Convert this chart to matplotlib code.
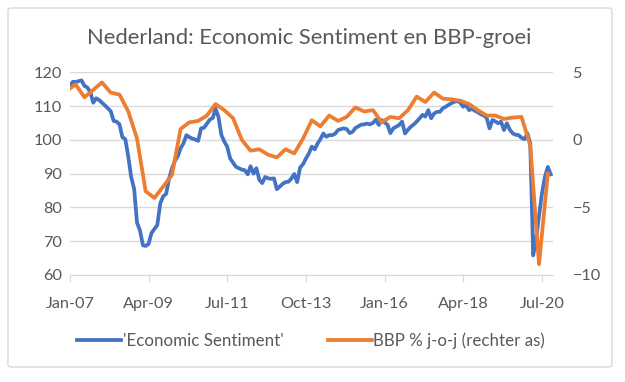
import matplotlib
matplotlib.use('Agg')
import matplotlib.pyplot as plt
import matplotlib.dates as mdates
import pandas as pd
from matplotlib.patches import FancyBboxPatch

plt.rcParams['font.family'] = ['Lato', 'DejaVu Sans']

title = 'Nederland: Economic Sentiment en BBP-groei'
label_sentiment = "'Economic Sentiment'"
label_gdp = 'BBP % j-o-j (rechter as)'

# Economic sentiment, maandelijks vanaf jan-2007
sentiment = [
    116.2, 117.2, 117.1, 117.4, 117.6, 116.0, 115.5, 114.2, 111.0, 112.3, 111.8, 111.0,
    110.2, 109.3, 108.5, 105.6, 105.4, 104.6, 100.8, 100.2, 95.0, 89.0, 85.5, 75.5,
    73.2, 68.8, 68.6, 69.2, 72.4, 73.6, 74.8, 81.2, 83.3, 84.0, 88.5, 91.5,
    93.8, 95.2, 97.5, 99.0, 101.4, 100.8, 100.4, 100.1, 99.7, 103.4, 103.6, 104.8,
    106.0, 106.5, 109.3, 106.8, 101.5, 99.5, 98.0, 94.5, 93.2, 92.0, 91.6, 91.2,
    91.0, 89.8, 92.2, 90.0, 91.6, 88.2, 87.2, 89.0, 88.6, 88.5, 88.6, 85.4,
    86.2, 87.0, 87.5, 87.6, 88.5, 89.9, 87.5, 91.8, 92.8, 94.5, 96.0, 98.0,
    97.2, 99.0, 100.2, 101.9, 100.9, 101.4, 101.4, 101.8, 102.9, 103.2, 103.4, 103.2,
    102.0, 102.4, 103.5, 104.0, 104.5, 104.6, 104.8, 104.6, 105.0, 106.0, 104.4, 105.9,
    105.2, 104.4, 102.0, 103.4, 103.9, 104.4, 105.4, 101.9, 103.0, 103.9, 104.6, 105.4,
    106.4, 107.4, 106.9, 108.8, 106.4, 107.8, 108.3, 108.3, 109.4, 109.8, 110.4, 110.9,
    111.3, 111.5, 111.0, 109.8, 110.3, 108.8, 109.2, 108.6, 108.2, 107.6, 107.2, 106.6,
    103.4, 105.9, 105.5, 104.9, 105.4, 102.9, 104.9, 103.0, 101.9, 101.5, 101.4, 100.6,
    100.2, 101.9, 99.0, 65.8, 70.5, 77.5, 84.0, 89.0, 92.0, 89.8,
]

# BBP-groei j-o-j, per kwartaal (eerste punt jan-2007, daarna maart, juni, ...)
gdp_growth = [
    3.8,
    4.1, 3.15, 3.7, 4.25, 3.5, 3.35, 2.1, 0.1, -3.8, -4.3, -3.45, -2.6,
    0.8, 1.3, 1.4, 1.8, 2.65, 2.2, 1.6, 0.0, -0.8, -0.7, -1.1, -1.3,
    -0.7, -1.0, 0.1, 1.45, 1.0, 1.8, 1.4, 1.7, 2.4, 2.1, 2.2, 1.3,
    1.7, 1.6, 2.2, 3.2, 2.8, 3.5, 3.05, 3.0, 2.9, 2.65, 2.2, 1.8,
    1.8, 1.55, 1.65, 1.7, -0.4, -9.2, -2.5,
]

sent_dates = pd.date_range('2007-01-01', periods=len(sentiment), freq='MS')
gdp_dates = pd.DatetimeIndex(['2007-01-01']).append(
    pd.date_range('2007-03-01', periods=len(gdp_growth) - 1, freq='3MS'))
tick_dates = pd.date_range('2007-01-01', '2020-07-01', freq='27MS')

blue = '#4472C4'
orange = '#ED7D31'
grey_text = '#595959'
grid_col = '#D9D9D9'

fig = plt.figure(figsize=(6.25, 3.82), dpi=100)
fig.patch.set_facecolor('white')
border = FancyBboxPatch((8 / 625, 1 - 367 / 382), 604 / 625, 359 / 382,
                        boxstyle='round,pad=0,rounding_size=0.006',
                        transform=fig.transFigure, facecolor='white',
                        edgecolor=grid_col, lw=1.0, zorder=-10)
fig.patches.append(border)

ax = fig.add_axes([70 / 625, 1 - 275 / 382, 483 / 625, 202.7 / 382])
ax.set_facecolor('none')
ax.plot(sent_dates, sentiment, color=blue, lw=2.7, solid_joinstyle='round')
ax.set_ylim(60, 120)
ax.set_yticks(range(60, 121, 10))
ax.set_xlim(sent_dates[0], sent_dates[-1] + pd.Timedelta(days=24))
ax.set_xticks(tick_dates)
ax.xaxis.set_major_formatter(mdates.DateFormatter('%b-%y'))
ax.grid(axis='y', color=grid_col, lw=1.0)
ax.set_axisbelow(True)
for s in ['top', 'left', 'right']:
    ax.spines[s].set_visible(False)
ax.spines['bottom'].set_color(grid_col)
ax.tick_params(axis='y', length=0, pad=6, labelsize=11.7, labelcolor=grey_text)
ax.tick_params(axis='x', length=5, color=grid_col, pad=11, labelsize=11.7,
               labelcolor=grey_text)

ax2 = ax.twinx()
ax2.plot(gdp_dates, gdp_growth, color=orange, lw=2.7, solid_joinstyle='round')
ax2.set_ylim(-10, 5)
ax2.set_yticks(range(-10, 6, 5))
for s in ['top', 'left', 'right', 'bottom']:
    ax2.spines[s].set_visible(False)
ax2.tick_params(axis='y', length=0, pad=14, labelsize=11.7, labelcolor=grey_text)

fig.text(309 / 625, 1 - 38 / 382, title, ha='center', va='center',
         fontsize=15.8, color=grey_text)

h1, = ax.plot([], [], color=blue, lw=2.7)
h2, = ax2.plot([], [], color=orange, lw=2.7)
fig.legend([h1, h2], [label_sentiment, label_gdp], loc='center',
           bbox_to_anchor=(311 / 625, 1 - 341 / 382), ncol=2, frameon=False,
           fontsize=12.2, labelcolor=grey_text, handlelength=2.6,
           handletextpad=0.1, columnspacing=2.6)

fig.savefig('out.png', dpi=100, facecolor='white')
